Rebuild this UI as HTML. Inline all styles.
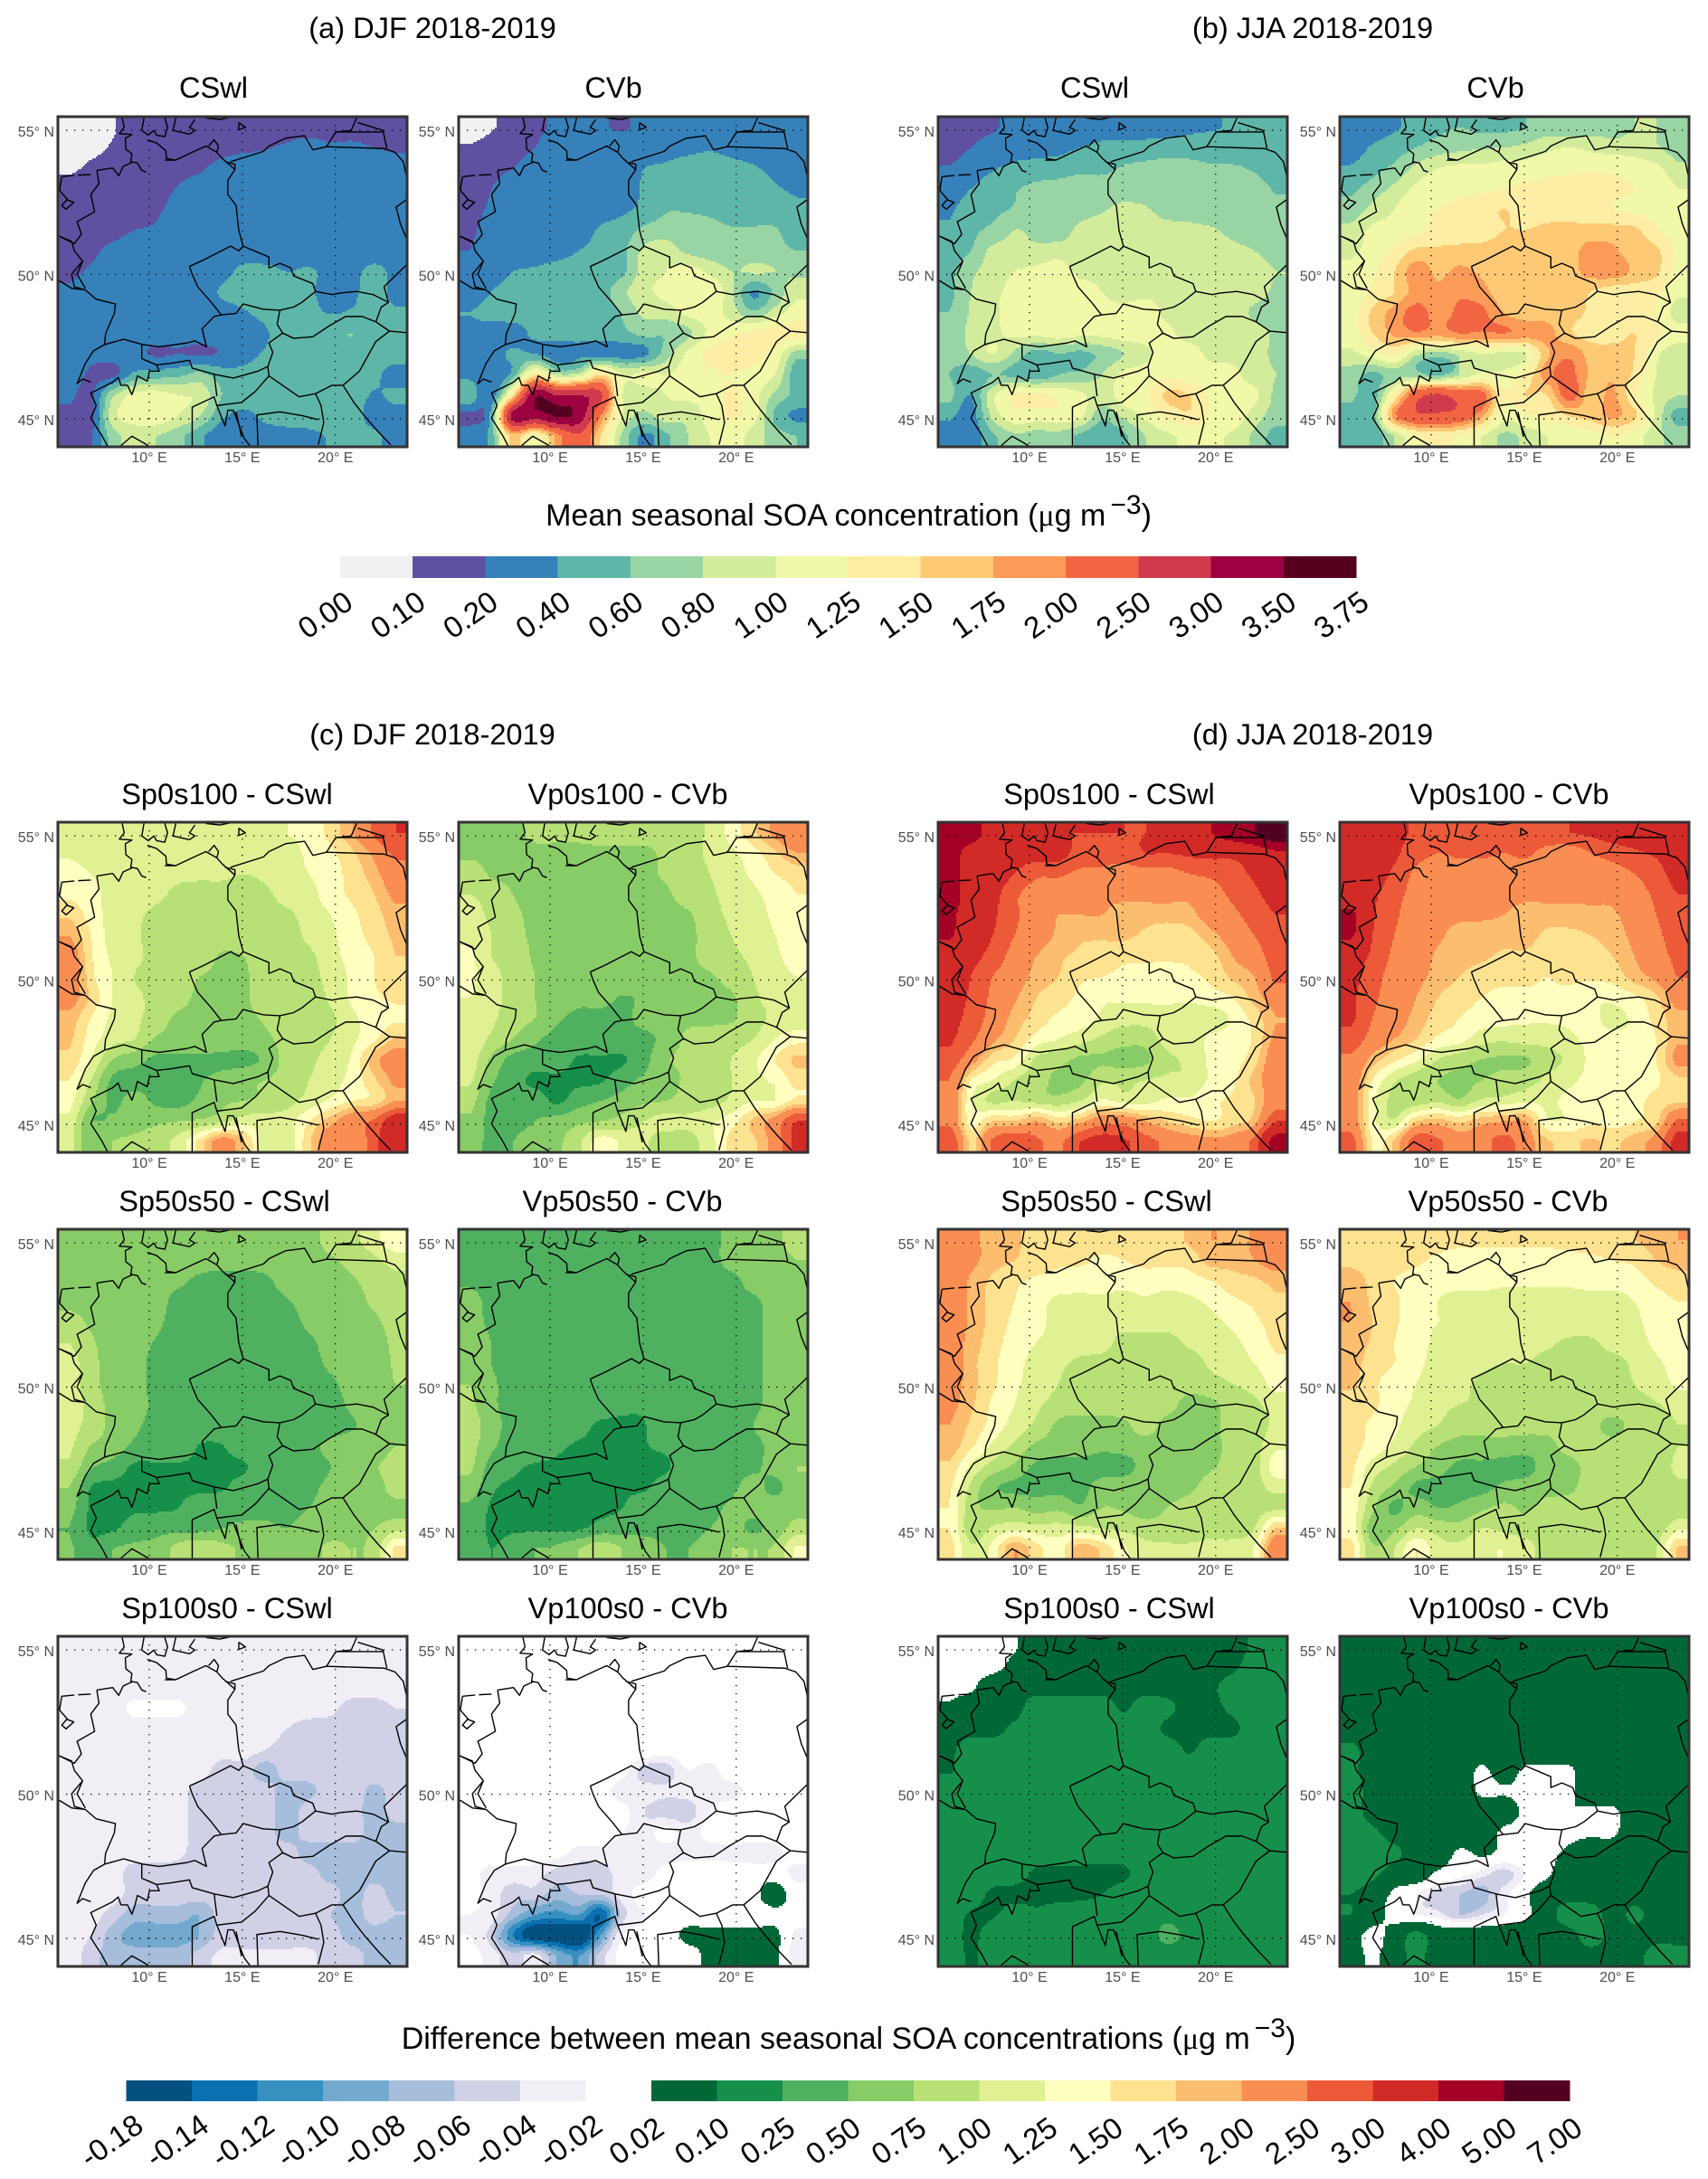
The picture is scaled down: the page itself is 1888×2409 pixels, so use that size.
<!DOCTYPE html>
<html lang="en">
<head>
<meta charset="utf-8">
<title>Mean seasonal SOA concentration maps</title>
<style>
html,body{margin:0;padding:0;background:#fff}
svg{display:block}
text{font-family:"Liberation Sans",Arial,sans-serif;fill:#000}
.h{font-size:32.6px;text-anchor:middle}
.t{font-size:32.6px;text-anchor:middle}
.l{font-size:34px;text-anchor:middle}
.tick{font-size:16px;fill:#4d4d4d}
.bar{font-size:33px;text-anchor:middle}
.sym{font-family:"Liberation Serif",serif}
</style>
</head>
<body>
<svg id="fig" xmlns="http://www.w3.org/2000/svg" width="1888" height="2409" viewBox="0 0 1888 2409">
<rect width="1888" height="2409" fill="#fff"/>
<text class="h" x="478" y="42">(a) DJF 2018-2019</text>
<text class="h" x="1451" y="42">(b) JJA 2018-2019</text>
<text class="h" x="478" y="823">(c) DJF 2018-2019</text>
<text class="h" x="1451" y="823">(d) JJA 2018-2019</text>

<text class="t" x="236" y="108">CSwl</text>
<text class="t" x="678" y="108">CVb</text>
<text class="t" x="1210" y="108">CSwl</text>
<text class="t" x="1653" y="108">CVb</text>

<text class="t" x="251" y="889">Sp0s100 - CSwl</text>
<text class="t" x="694" y="889">Vp0s100 - CVb</text>
<text class="t" x="1226" y="889">Sp0s100 - CSwl</text>
<text class="t" x="1668" y="889">Vp0s100 - CVb</text>

<text class="t" x="248" y="1339">Sp50s50 - CSwl</text>
<text class="t" x="688" y="1339">Vp50s50 - CVb</text>
<text class="t" x="1223" y="1339">Sp50s50 - CSwl</text>
<text class="t" x="1667" y="1339">Vp50s50 - CVb</text>

<text class="t" x="251" y="1789">Sp100s0 - CSwl</text>
<text class="t" x="694" y="1789">Vp100s0 - CVb</text>
<text class="t" x="1226" y="1789">Sp100s0 - CSwl</text>
<text class="t" x="1668" y="1789">Vp100s0 - CVb</text>

<text class="l" x="938" y="581">Mean seasonal SOA concentration (<tspan class="sym">μ</tspan>g m<tspan dx="5" dy="-13" font-size="30">−3</tspan><tspan dy="13">)</tspan></text>
<text class="l" x="938" y="2265">Difference between mean seasonal SOA concentrations (<tspan class="sym">μ</tspan>g m<tspan dx="5" dy="-13" font-size="30">−3</tspan><tspan dy="13">)</tspan></text>
</svg>

<script>
/* ---------- colour scales ---------- */
const concLevels = [0,0.1,0.2,0.4,0.6,0.8,1,1.25,1.5,1.75,2,2.5,3,3.5,3.75];
const concLabels = ["0.00","0.10","0.20","0.40","0.60","0.80","1.00","1.25","1.50","1.75","2.00","2.50","3.00","3.50","3.75"];
const concColors = ["#f1f1f1","#5f50a1","#3681ba","#5eb6a8","#99d5a4","#d3ec9c","#f1f8a8","#fdeea4","#fec975","#fc9a58","#f16543","#d03a4d","#9e0141","#55001f"];
const diffLevels = [-0.18,-0.14,-0.12,-0.10,-0.08,-0.06,-0.04,-0.02,0.02,0.10,0.25,0.50,0.75,1,1.25,1.5,1.75,2,2.5,3,4,5,7];
const diffLabels = ["-0.18","-0.14","-0.12","-0.10","-0.08","-0.06","-0.04","-0.02","0.02","0.10","0.25","0.50","0.75","1.00","1.25","1.50","1.75","2.00","2.50","3.00","4.00","5.00","7.00"];
const diffColors = ["#045080","#0a70b0","#3690c0","#74a9cf","#a6bddb","#d0d1e6","#f1eef6","#ffffff","#006837","#168f4b","#4fb160","#88cc67","#b7e176","#dff192","#ffffbf","#fde290","#fdbd6f","#fa8e52","#ec5a3a","#d12a27","#a40026","#540022"];

/* ---------- axis ticks ---------- */
const lonTicks = [10,15,20];
const latTicks = [55,50,45];

/* ---------- fields: seasonal SOA, rows north to south, columns west to east ---------- */
const djfCswl = [
[.05,.07,.09,.15,.15,.15,.15,.15,.15,.15,.15,.15,.15,.17,.17,.15],
[.05,.07,.11,.15,.15,.15,.15,.15,.17,.19,.22,.25,.22,.22,.2,.18],
[.08,.12,.15,.15,.15,.15,.18,.25,.3,.3,.3,.3,.3,.3,.3,.28],
[.15,.15,.15,.15,.15,.21,.28,.3,.3,.3,.3,.3,.3,.3,.3,.3],
[.15,.15,.15,.15,.18,.25,.3,.3,.3,.3,.3,.3,.3,.3,.3,.3],
[.15,.15,.15,.2,.22,.3,.3,.3,.3,.3,.3,.3,.3,.3,.3,.3],
[.15,.17,.24,.3,.3,.3,.3,.3,.3,.3,.3,.3,.3,.3,.3,.3],
[.17,.22,.3,.3,.3,.3,.3,.33,.45,.45,.4,.42,.35,.35,.45,.35],
[.22,.3,.3,.3,.3,.3,.3,.42,.48,.5,.5,.42,.36,.38,.45,.36],
[.25,.3,.3,.3,.3,.3,.3,.32,.38,.45,.5,.45,.39,.42,.45,.42],
[.3,.3,.3,.3,.3,.3,.3,.3,.3,.38,.5,.5,.55,.6,.5,.48],
[.3,.25,.3,.25,.18,.2,.18,.22,.33,.42,.5,.5,.5,.5,.5,.5],
[.3,.17,.15,.45,.5,.55,.65,.5,.45,.5,.5,.5,.5,.5,.45,.3],
[.25,.15,.75,1.05,1.1,1,.95,.6,.5,.5,.5,.5,.5,.5,.38,.45],
[.15,.12,.9,1.1,1.15,1,.8,.45,.35,.45,.5,.5,.5,.5,.3,.32],
[.15,.17,.7,.85,.8,.65,.45,.25,.25,.3,.32,.35,.42,.5,.45,.3]];
const djfCvb = [
[.05,.09,.14,.17,.22,.25,.22,.18,.25,.28,.3,.3,.3,.3,.3,.3],
[.11,.14,.16,.2,.3,.3,.3,.3,.3,.33,.35,.38,.33,.3,.3,.3],
[.15,.16,.2,.28,.3,.3,.3,.32,.4,.43,.48,.5,.47,.42,.35,.3],
[.15,.2,.3,.3,.3,.3,.3,.32,.42,.5,.5,.5,.5,.5,.42,.38],
[.17,.22,.3,.3,.3,.3,.33,.37,.45,.58,.58,.55,.5,.5,.48,.42],
[.18,.25,.3,.3,.3,.33,.42,.48,.65,.7,.72,.68,.62,.62,.62,.45],
[.2,.3,.3,.33,.35,.4,.45,.55,.85,.9,.75,.7,.68,.68,.68,.6],
[.22,.33,.4,.42,.45,.46,.48,.55,.9,1,1.1,.95,.8,.82,.8,.75],
[.3,.4,.45,.48,.48,.48,.5,.75,.95,1.05,1.15,1.2,.85,.38,.65,.95],
[.4,.45,.5,.48,.48,.48,.48,.62,.85,.9,1.05,1.1,.9,.65,.9,1.1],
[.35,.32,.3,.45,.48,.48,.5,.55,.65,.62,.75,1.05,1.2,1.3,1.4,1.35],
[.35,.3,.45,.4,.3,.35,.32,.3,.35,.7,1.05,1.3,1.4,1.35,1.15,.7],
[.35,.25,.5,1.4,.85,.9,1.5,1,1.05,1,1.1,1.2,1.25,1.15,1,.45],
[.55,.25,1.5,3.4,3,3,2.6,1,.9,1,1.05,1.1,1.3,1.1,.75,.55],
[.15,.5,3.2,3.2,3.55,3.3,2,1,.75,.9,.85,1.1,1.3,1.1,.55,.35],
[.3,.5,1.6,1.1,1.8,2.4,1.5,.75,.35,.55,.8,1,1.1,.9,.7,.6]];
const jjaCswl = [
[.15,.15,.18,.25,.3,.3,.3,.3,.3,.3,.32,.35,.38,.42,.48,.5],
[.15,.2,.28,.3,.33,.35,.4,.45,.47,.48,.5,.52,.52,.5,.5,.48],
[.21,.3,.38,.45,.48,.5,.55,.55,.62,.65,.68,.65,.62,.62,.58,.5],
[.32,.4,.5,.58,.65,.68,.7,.7,.7,.7,.7,.7,.7,.7,.68,.58],
[.38,.48,.55,.62,.7,.72,.72,.78,.85,.82,.72,.72,.7,.7,.7,.65],
[.42,.55,.65,.8,.75,.7,.85,.9,.92,.9,.88,.85,.82,.75,.7,.68],
[.5,.6,.85,.85,.85,.9,.9,.9,.95,.92,.92,.9,.9,.85,.8,.72],
[.55,.75,.9,1,1.05,1.1,.95,.95,.95,.9,.9,.95,.95,.92,.88,.8],
[.55,.8,.95,1.05,1.1,1.1,1.1,1,.95,.95,.95,.9,.95,.9,.9,.75],
[.6,.82,.95,1.1,1.1,1.1,1.1,1.05,1.05,1.1,.95,.92,.85,.92,.75,.65],
[.65,.85,.95,1.05,1.05,1.1,1.05,1.05,1.1,1.1,1.05,.92,.92,.95,.9,.75],
[.65,.8,1,.75,.5,.6,.55,.65,.8,.95,1.1,1.1,.95,.95,.9,.75],
[.6,.45,.6,.55,.42,.6,.65,.8,1.05,1.1,1.2,1.1,1.1,1.05,.9,.8],
[.65,.4,.95,1.25,1.3,1.2,1.05,.9,1.1,1.2,1.55,1.5,1.2,1.1,1.05,.75],
[.45,.3,.85,1.15,1.1,1.15,1.05,.65,.85,1.05,1.3,1.45,1.2,1.15,.9,.7],
[.2,.25,.55,.75,.7,.7,.55,.42,.55,.8,.95,1.05,1.05,.95,.75,.5]];
const jjaCvb = [
[.3,.3,.38,.45,.55,.6,.55,.55,.6,.7,.65,.72,.72,.8,.8,.75],
[.32,.42,.5,.6,.7,.75,.78,.8,.85,.95,1,.95,.9,.88,.82,.72],
[.42,.52,.65,.85,1,1.05,1.05,1.1,1.1,1.15,1.2,1.2,1.2,1.15,1.05,.85],
[.55,.7,.85,1.05,1.15,1.2,1.2,1.25,1.3,1.35,1.35,1.35,1.3,1.25,1.2,1],
[.7,.85,1,1.2,1.25,1.3,1.4,1.5,1.4,1.4,1.35,1.3,1.25,1.2,1.1,1],
[.85,1.05,1.1,1.2,1.3,1.3,1.35,1.5,1.5,1.55,1.6,1.6,1.6,1.55,1.3,1.1],
[.95,1.1,1.3,1.55,1.55,1.6,1.6,1.65,1.6,1.6,1.65,1.85,1.8,1.6,1.55,1.2],
[1.05,1.2,1.5,1.9,1.7,1.8,1.7,1.5,1.65,1.6,1.65,1.85,1.9,1.7,1.55,1.15],
[1.05,1.3,1.5,1.85,1.8,1.95,1.85,1.6,1.65,1.7,1.7,1.5,1.35,1.35,1.3,1.05],
[1.1,1.55,1.85,2.1,1.9,2.05,2.05,1.75,1.6,1.65,1.6,1.45,1.3,1.4,1.25,.9],
[1.1,1.5,1.8,1.95,1.85,2.0,1.95,2,1.9,1.85,1.55,1.4,1.4,1.5,1.3,1.1],
[.95,1.1,1.3,.85,.7,.85,1,.95,1,1.7,1.95,1.65,1.6,1.5,1.05,.85],
[.7,.55,.7,.7,.55,.8,1.05,1.05,1.3,1.9,2.1,1.7,1.7,1.45,1,.8],
[.65,.5,1.3,2.3,2.55,2.3,2.15,1.3,1.5,1.5,2.15,1.6,1.8,1.3,.95,.8],
[.5,.5,1.9,2.4,2.4,2.3,1.8,1.1,1.2,1.3,1.5,1.6,1.8,1.55,.95,.5],
[.5,.45,.8,1.2,1.3,1.2,1,.75,.85,1,1.05,1.1,1.25,1.1,.85,.75]];
const djfSp0 = [
[1.1,1.1,1.1,1.1,1.1,1.1,1.1,1.15,1.15,1.2,1.25,1.35,1.6,2,2.6,3],
[1.2,1.1,1.1,1.1,1.1,1.1,1.1,1.1,1.1,1.1,1.15,1.3,1.45,1.7,2.1,2.6],
[1.4,1.25,1.15,1.1,1.1,1.05,1.05,1.05,1,1.05,1.15,1.25,1.4,1.6,1.9,2.3],
[1.45,1.35,1.15,1.1,1.05,.95,.9,.9,.9,.95,1.1,1.15,1.4,1.55,1.75,2.1],
[1.7,1.4,1.15,1.05,.95,.9,.9,.9,.9,.9,.95,1.1,1.25,1.45,1.65,1.9],
[2,1.5,1.15,1.05,.9,.9,.9,.9,.9,.9,.9,1.05,1.2,1.4,1.6,1.8],
[2.3,1.55,1.2,1.05,.95,.9,.9,.72,.75,.9,.9,.95,1.15,1.35,1.5,1.75],
[2.4,1.6,1.25,1,.95,.9,.75,.7,.72,.85,.9,.9,1.1,1.3,1.5,1.7],
[2.2,1.7,1.25,1.05,.95,.85,.7,.7,.72,.85,.9,.85,1.05,1.3,1.45,1.55],
[1.9,1.5,1.2,1.05,.9,.7,.7,.7,.7,.78,.9,.85,.95,1.2,1.35,1.45],
[1.8,1.4,1.1,1,.72,.65,.7,.7,.65,.7,.85,.9,1,1.2,1.45,1.8],
[1.7,1.25,.75,.6,.45,.45,.45,.42,.42,.55,.85,.95,1.1,1.3,1.9,2.2],
[1.5,1,.45,.42,.42,.45,.48,.6,.7,.75,.85,1,1.15,1.35,1.7,2.1],
[1.35,.8,.45,.6,.45,.42,.55,.7,.75,.8,.9,1.1,1.3,1.5,1.6,2],
[1.2,.5,.55,.65,.7,.75,.8,.95,1.15,1.1,1.15,1.5,1.9,2.3,2.6,3.5],
[1.1,.5,.75,.8,.9,1.1,1.6,2.2,1.8,1.1,1.05,1.7,2.3,2.1,2.8,3.8]];
const djfVp0 = [
[.7,.7,.7,.8,.8,.8,.85,.85,.85,.85,.9,1.05,1.35,1.7,2.1,2.4],
[.7,.7,.7,.7,.7,.7,.7,.7,.7,.8,.9,1.05,1.2,1.4,1.7,2],
[.9,.72,.7,.7,.7,.7,.7,.7,.7,.78,.85,1,1.15,1.3,1.5,1.6],
[1,.9,.75,.7,.7,.7,.7,.7,.7,.72,.85,.95,1.1,1.2,1.35,1.5],
[1.1,.95,.8,.7,.7,.7,.7,.7,.7,.7,.72,.9,1.05,1.15,1.3,1.45],
[1.2,1,.85,.7,.7,.7,.7,.7,.7,.7,.7,.85,1,1.1,1.25,1.4],
[1.3,1,.9,.72,.7,.7,.7,.7,.7,.7,.7,.85,.95,1.05,1.2,1.35],
[1.3,1.1,.9,.75,.7,.7,.7,.7,.7,.7,.7,.72,.85,1,1.15,1.25],
[1.25,1.1,.9,.75,.7,.6,.6,.48,.55,.65,.7,.7,.72,.95,1.1,1.2],
[1.2,1.05,.85,.75,.55,.42,.42,.42,.6,.65,.7,.7,.72,.9,1.05,1.1],
[1.2,.95,.75,.55,.42,.42,.42,.42,.42,.6,.8,.85,.9,1,1.25,1.4],
[1.15,.7,.42,.38,.38,.22,.22,.22,.42,.72,.8,.9,1,1.2,1.5,1.8],
[1.05,.55,.35,.2,.2,.2,.22,.4,.55,.65,.8,.9,1,1.2,1.3,1.6],
[.85,.42,.25,.38,.2,.4,.5,.6,.7,.75,.85,.9,1.05,1.25,1.25,1.6],
[.7,.42,.42,.5,.6,.7,.75,.85,1,1.1,1.05,1.2,1.4,1.8,2.2,3],
[.6,.45,.5,.6,.7,.95,1.4,1.2,1.05,.85,.9,1.15,1.6,1.7,2.2,3.2]];
const jjaSp0 = [
[4.5,4.5,3.5,3.3,3,3,3,3,3,3,3.2,3.5,4,4.5,5,6],
[4.5,3.6,3.5,3.3,3.2,3.2,2.8,2.7,2.7,3,3,3.1,3.2,3.2,3.4,3.8],
[4.5,3.5,3.4,3,2.6,2.6,2.4,2.4,2.3,2.3,2.3,2.5,2.6,2.8,3.1,3.4],
[4.5,3.5,3.2,2.6,2.3,2.1,2.1,2.1,2.1,2.1,2.1,2.1,2.3,2.6,2.9,3.2],
[4.2,3.5,3.1,2.6,2.2,2,2,2,1.85,1.85,1.85,1.9,2.2,2.4,2.7,3],
[4.1,3.4,3,2.5,2.2,1.95,1.8,1.8,1.8,1.7,1.6,1.65,1.9,2.2,2.5,2.8],
[3.5,3.2,2.8,2.3,2,1.8,1.7,1.6,1.55,1.55,1.55,1.55,1.65,2,2.3,2.7],
[3.5,3,2.5,2.2,1.9,1.75,1.55,1.5,1.45,1.4,1.35,1.45,1.55,1.8,2,2.6],
[3.4,2.9,2.4,2.05,1.75,1.6,1.45,1.3,1.3,1.3,1.3,1.3,1.4,1.5,1.85,2.2],
[3.2,2.8,2.3,1.9,1.65,1.45,1.4,1.2,1.1,1.1,1.15,1.1,1.1,1.3,1.6,2],
[3.1,2.6,2.1,1.75,1.4,1.25,1.1,.95,.85,.85,1.1,1.1,1.3,1.35,1.55,2.1],
[2.8,2.2,1.6,1.45,.95,.85,.7,.72,.65,.7,.95,1.05,1.3,1.4,1.65,2.3],
[2.5,1.5,1.25,1,.85,.7,.7,.95,.95,1,1.05,1.05,1.3,1.45,1.85,2.3],
[2.4,1.3,.95,1,.9,.85,1,1.3,1.15,1.15,1.3,1.3,1.45,1.55,1.75,2.3],
[2.4,1.4,1.75,1.75,2,1.7,1.9,2.3,2.3,2,1.75,1.6,1.5,1.65,1.9,3],
[3,1.7,2.6,3,2.6,2.4,3,3.3,3.1,2.7,2.4,2.2,2.1,2.2,2.7,4.5]];
const jjaVp0 = [
[3.5,3.4,3.2,2.9,2.8,2.8,2.8,2.9,2.9,2.9,3,3.1,3.3,3.4,3.7,3.9],
[3.5,3.4,3.1,2.7,2.5,2.6,2.6,2.5,2.6,2.3,2.2,2.5,2.7,2.9,3.1,3.4],
[3.5,3.3,2.9,2.4,2.2,2.2,2.2,2.2,2.2,2.2,2.2,2.2,2.3,2.5,2.8,3.2],
[3.3,3.1,2.7,2.3,2.1,2.1,2.1,2.15,2.1,2.1,2.1,2.1,2.1,2.3,2.6,3],
[4.2,3.1,2.6,2.2,2.1,2.05,2.05,2,1.85,1.85,1.85,1.9,1.95,2.2,2.5,2.8],
[4.1,3,2.5,2.2,2.05,1.9,1.85,1.85,1.85,1.7,1.7,1.75,1.85,2.1,2.4,2.7],
[3.3,2.9,2.4,2.2,1.95,1.85,1.8,1.7,1.7,1.55,1.55,1.65,1.75,2,2.3,2.6],
[3.2,2.7,2.3,2.1,1.9,1.75,1.6,1.55,1.55,1.5,1.55,1.55,1.6,1.85,2.1,2.5],
[3.1,2.6,2.3,2,1.75,1.6,1.5,1.45,1.45,1.45,1.4,1.3,1.3,1.45,1.7,2.2],
[3.1,2.5,2.2,1.9,1.65,1.5,1.4,1.35,1.3,1.3,1.3,1.3,1.2,1.3,1.6,1.9],
[2.8,2.3,2,1.75,1.45,1.35,1.1,1.05,1.1,1.1,1.2,1.3,1.3,1.3,1.5,1.95],
[2.4,1.9,1.55,1.3,1,.85,.75,.72,.72,.9,1.05,1.3,1.3,1.3,1.5,2.1],
[2.3,1.5,1.05,.85,.75,.7,.75,.85,.9,1.05,1.2,1.3,1.3,1.3,1.45,1.7],
[2.2,1.35,.9,.85,.95,.8,1.05,1.1,1.2,1.2,1.3,1.3,1.3,1.4,1.6,1.7],
[2.3,1.35,1.05,1.75,1.85,1.7,1.9,2,2,1.3,1.3,1.45,1.4,1.5,1.7,2.6],
[2.7,1.5,1.8,2.8,2.6,2.2,2.3,2.7,2.2,1.8,1.7,1.8,1.7,1.9,2.2,3.3]];
const djfSp50 = [
[.6,.6,.6,.6,.6,.6,.6,.6,.6,.6,.6,.6,.9,.95,1.15,1.5],
[.6,.6,.6,.6,.6,.6,.6,.6,.6,.6,.6,.6,.7,.85,.95,1.1],
[.62,.6,.6,.6,.6,.55,.45,.4,.4,.45,.6,.6,.6,.72,.85,.95],
[.65,.6,.6,.6,.6,.42,.4,.4,.4,.4,.48,.6,.6,.65,.8,.9],
[.9,.7,.6,.6,.55,.4,.4,.4,.4,.4,.4,.55,.6,.6,.7,.85],
[1,.8,.6,.6,.48,.4,.4,.4,.4,.4,.4,.45,.6,.6,.65,.8],
[1.1,.85,.62,.6,.42,.4,.4,.4,.4,.4,.4,.4,.55,.6,.62,.78],
[1.1,.85,.65,.6,.42,.4,.4,.4,.4,.4,.4,.4,.45,.6,.6,.75],
[1.15,.9,.68,.6,.45,.4,.4,.4,.4,.4,.4,.4,.4,.55,.6,.65],
[1.1,.9,.68,.55,.42,.4,.4,.4,.4,.4,.4,.4,.4,.48,.6,.62],
[1.05,.75,.65,.45,.4,.4,.24,.24,.38,.42,.42,.45,.55,.6,.6,.75],
[.95,.55,.4,.22,.22,.22,.22,.22,.22,.42,.42,.42,.5,.6,.72,.85],
[.75,.25,.2,.2,.2,.2,.2,.22,.35,.42,.42,.45,.55,.6,.65,.85],
[.6,.22,.2,.22,.22,.25,.4,.42,.42,.42,.42,.5,.6,.6,.65,.7],
[.5,.22,.22,.35,.4,.42,.42,.5,.55,.55,.5,.6,.65,.7,.75,.9],
[.55,.3,.5,.55,.6,.85,1,.85,.7,.6,.55,.65,.8,.75,.85,1.6]];
const djfVp50 = [
[.4,.4,.4,.4,.4,.4,.4,.4,.4,.4,.4,.4,.6,.6,.7,.85],
[.4,.4,.4,.4,.4,.4,.4,.4,.4,.4,.4,.4,.6,.6,.65,.75],
[.45,.4,.4,.4,.4,.4,.4,.4,.4,.4,.4,.4,.42,.6,.6,.65],
[.6,.42,.4,.4,.4,.4,.4,.4,.4,.4,.4,.4,.4,.45,.6,.62],
[.6,.45,.4,.4,.4,.4,.4,.4,.4,.4,.4,.4,.4,.42,.6,.6],
[.65,.5,.4,.4,.4,.4,.4,.4,.4,.4,.4,.4,.4,.42,.6,.6],
[.7,.5,.4,.4,.4,.4,.4,.4,.4,.4,.4,.4,.4,.42,.6,.6],
[.75,.55,.4,.4,.4,.4,.3,.4,.4,.4,.4,.4,.4,.42,.6,.65],
[.8,.55,.42,.4,.4,.4,.36,.3,.3,.4,.4,.4,.4,.45,.6,.7],
[.9,.6,.42,.4,.4,.32,.22,.22,.24,.4,.4,.4,.4,.5,.6,.6],
[.85,.55,.4,.4,.3,.22,.22,.22,.24,.3,.4,.4,.4,.45,.55,.6],
[.8,.4,.3,.22,.2,.12,.12,.12,.2,.22,.4,.4,.4,.45,.6,.75],
[.65,.3,.2,.12,.1,.1,.12,.2,.22,.35,.4,.4,.45,.6,.42,.7],
[.45,.22,.1,.12,.15,.2,.2,.25,.4,.4,.4,.42,.55,.6,.65,.7],
[.42,.2,.2,.22,.22,.22,.35,.38,.42,.42,.42,.5,.6,.45,.62,.85],
[.45,.25,.4,.5,.55,.75,.95,.75,.65,.5,.5,.6,.75,.75,.8,1.3]];
const jjaSp50 = [
[2.1,2.1,1.85,1.8,1.6,1.6,1.6,1.65,1.6,1.6,1.6,1.8,2,1.95,2.05,2.4],
[2.2,2.1,1.85,1.75,1.65,1.55,1.55,1.45,1.5,1.55,1.55,1.6,1.85,1.85,2,2.2],
[2.3,1.95,1.7,1.55,1.45,1.4,1.35,1.35,1.35,1.4,1.35,1.4,1.5,1.65,1.7,1.85],
[2.3,1.95,1.65,1.5,1.35,1.2,1.2,1.2,1.15,1.2,1.15,1.2,1.3,1.45,1.55,1.7],
[2.2,1.95,1.65,1.45,1.35,1.15,1.15,1.1,1.1,1.1,1.1,1.15,1.2,1.3,1.45,1.6],
[2.2,1.9,1.6,1.4,1.25,1.15,1.1,1.1,.9,.9,.9,1.05,1.15,1.2,1.35,1.55],
[2.3,1.85,1.55,1.35,1.15,1.05,.95,.9,.85,.85,.85,.85,1.05,1.15,1.25,1.45],
[2.2,1.85,1.55,1.3,1.15,1,.85,.85,.85,.85,.85,.85,.9,1,1.1,1.35],
[2.1,1.8,1.45,1.25,1.05,.9,.85,.85,.85,.85,.85,.65,.7,.85,.95,1.1],
[2,1.7,1.4,1.15,.95,.7,.65,.65,.7,.85,.65,.6,.65,.9,.9,1.05],
[1.9,1.55,1.2,.95,.7,.65,.6,.55,.6,.65,.65,.6,.65,.85,.9,1.2],
[1.7,1.2,.9,.7,.45,.4,.42,.42,.4,.6,.62,.65,.72,.85,.9,1.4],
[1.55,.95,.55,.45,.42,.42,.42,.6,.65,.65,.65,.7,.85,.88,.9,1.1],
[1.5,.85,.72,.75,.65,.7,.55,.75,.72,.65,.75,.85,.9,.9,.9,.95],
[1.5,.85,1.05,1.15,1.1,1.1,1.1,1,.95,.85,.85,.85,.9,.9,1,1.8],
[1.65,1.05,1.35,2,1.6,1.4,1.9,1.7,1.3,1.1,1.05,1.05,1.1,1.1,1.3,2.4]];
const jjaVp50 = [
[1.65,1.6,1.65,1.65,1.6,1.55,1.55,1.55,1.55,1.55,1.6,1.65,1.65,1.75,1.85,2],
[1.65,1.6,1.6,1.55,1.45,1.4,1.4,1.4,1.4,1.4,1.4,1.45,1.5,1.55,1.75,1.85],
[1.95,1.65,1.5,1.4,1.35,1.35,1.35,1.3,1.3,1.3,1.3,1.35,1.35,1.4,1.55,1.65],
[2,1.7,1.55,1.35,1.25,1.15,1.15,1.15,1.15,1.15,1.15,1.15,1.15,1.25,1.4,1.5],
[2,1.75,1.55,1.3,1.25,1.2,1.15,1.15,1.15,1.15,1.15,1.15,1.15,1.2,1.35,1.45],
[1.95,1.7,1.5,1.35,1.2,1.15,1.1,1.1,1.1,1.05,.95,.95,1.1,1.15,1.3,1.4],
[1.9,1.6,1.5,1.35,1.1,1.05,1.05,1,1,.9,.85,.85,.9,1.05,1.2,1.35],
[1.8,1.55,1.4,1.25,1.05,1.05,.95,.85,.85,.85,.85,.85,.95,1,1.1,1.3],
[1.65,1.55,1.35,1.2,1.05,1,.95,.85,.85,.85,.85,.85,.95,.95,.98,1.1],
[1.6,1.45,1.3,1.1,1,.85,.85,.85,.85,.85,.85,.85,.65,.85,.85,1],
[1.6,1.4,1.2,.95,.75,.65,.65,.65,.6,.65,.85,.85,.85,.85,.85,1],
[1.55,1.15,.95,.75,.6,.45,.45,.42,.42,.6,.65,.85,.85,.85,.85,1.05],
[1.5,.95,.7,.45,.42,.42,.42,.55,.6,.65,.7,.85,.85,.85,.85,.95],
[1.4,.8,.45,.65,.5,.55,.7,.8,.72,.85,.85,.85,.85,.85,.85,.85],
[1.4,.6,.7,1,.9,.85,1,.95,.85,.85,.85,.85,.85,.85,.85,1.2],
[1.6,.8,1,1.5,1.1,1.05,1.2,1.25,1.15,.85,.85,.9,.9,.95,1,1.8]];
const djfSp100 = [
[-.03,-.03,-.03,-.03,-.03,-.03,-.03,-.03,-.03,-.03,-.03,-.03,-.03,-.03,-.03,-.03],
[-.03,-.03,-.03,-.03,-.03,-.03,-.03,-.03,-.03,-.03,-.03,-.03,-.03,-.03,-.03,-.03],
[-.03,-.03,-.03,-.03,-.03,-.03,-.03,-.03,-.03,-.03,-.03,-.03,-.03,-.03,-.03,-.03],
[-.03,-.03,-.03,-.015,-.015,-.015,-.03,-.03,-.03,-.03,-.03,-.03,-.035,-.05,-.05,-.04],
[-.03,-.03,-.03,-.03,-.03,-.03,-.03,-.03,-.03,-.03,-.04,-.05,-.05,-.05,-.05,-.05],
[-.03,-.03,-.03,-.03,-.03,-.03,-.03,-.03,-.03,-.04,-.05,-.05,-.05,-.05,-.05,-.05],
[-.03,-.03,-.03,-.03,-.03,-.03,-.03,-.05,-.05,-.07,-.05,-.05,-.05,-.05,-.05,-.05],
[-.03,-.03,-.03,-.03,-.03,-.03,-.05,-.05,-.05,-.05,-.07,-.065,-.05,-.05,-.065,-.05],
[-.03,-.03,-.03,-.03,-.03,-.03,-.05,-.05,-.05,-.05,-.07,-.05,-.05,-.05,-.07,-.05],
[-.03,-.03,-.03,-.03,-.03,-.03,-.05,-.05,-.05,-.05,-.07,-.05,-.05,-.05,-.07,-.07],
[-.03,-.03,-.03,-.03,-.03,-.035,-.05,-.05,-.05,-.05,-.05,-.07,-.07,-.07,-.07,-.07],
[-.03,-.03,-.03,-.05,-.05,-.05,-.05,-.05,-.05,-.05,-.05,-.05,-.07,-.07,-.07,-.07],
[-.03,-.03,-.03,-.05,-.05,-.05,-.05,-.05,-.05,-.05,-.05,-.05,-.05,-.07,-.05,-.07],
[-.03,-.03,-.05,-.07,-.07,-.07,-.08,-.05,-.05,-.05,-.05,-.05,-.06,-.07,-.05,-.06],
[-.03,-.04,-.07,-.09,-.09,-.09,-.08,-.05,-.05,-.05,-.05,-.05,-.05,-.07,-.07,-.08],
[-.03,-.05,-.07,-.07,-.07,-.07,-.05,-.035,-.035,-.035,-.035,-.035,-.05,-.05,-.07,-.08]];
const djfVp100 = [
[0,0,0,0,0,0,0,0,0,0,0,0,0,0,0,0],
[0,0,0,0,0,0,0,0,0,0,0,0,0,0,0,0],
[0,0,0,0,0,0,0,0,0,0,0,0,0,0,0,0],
[0,0,0,0,0,0,0,0,0,0,0,0,0,0,0,0],
[0,0,0,0,0,0,0,0,0,0,0,0,0,0,0,0],
[0,0,0,0,0,0,0,0,0,-.01,0,0,0,0,0,0],
[0,0,0,0,0,0,0,-.01,-.05,-.05,-.02,-.03,0,0,0,0],
[0,0,0,0,0,0,-.01,-.03,-.03,-.035,-.03,-.03,-.03,-.01,0,0],
[0,0,0,0,0,0,0,-.01,-.04,-.05,-.05,-.02,0,0,0,0],
[0,0,0,0,0,0,0,-.02,-.03,-.01,-.03,-.01,0,0,0,0],
[0,0,0,-.01,-.01,-.03,-.03,-.03,-.03,-.03,-.03,-.03,-.03,-.035,-.03,0],
[-.01,-.03,-.03,-.03,-.05,-.05,-.05,-.03,-.03,-.01,0,0,0,0,0,-.03],
[-.01,-.03,-.05,-.05,-.07,-.06,-.06,-.03,-.01,0,0,0,0,.01,.04,0],
[-.02,-.03,-.07,-.1,-.11,-.1,-.14,-.05,-.02,0,0,0,0,0,.01,0],
[-.02,-.05,-.12,-.16,-.16,-.17,-.1,-.02,-.01,0,.03,.03,.03,.03,.03,-.03],
[-.01,-.03,-.05,-.03,-.08,-.1,-.05,-.01,0,0,0,.03,.03,.03,.03,-.04]];
const jjaSp100 = [
[0,0,0,.015,.05,.05,.05,.05,.05,.05,.05,.05,.05,.05,.12,.12],
[0,0,0,.04,.05,.05,.05,.05,.05,.05,.05,.05,.05,.08,.15,.15],
[0,.01,.07,.07,.07,.07,.07,.07,.07,.07,.07,.07,.08,.15,.15,.15],
[.03,.07,.07,.07,.15,.15,.15,.15,.09,.15,.12,.07,.07,.12,.15,.15],
[.05,.07,.07,.12,.15,.15,.15,.15,.15,.15,.08,.07,.07,.08,.15,.15],
[.08,.15,.15,.15,.15,.15,.15,.15,.15,.15,.15,.09,.15,.15,.15,.15],
[.09,.15,.15,.15,.15,.15,.15,.15,.15,.15,.15,.15,.15,.15,.15,.15],
[.15,.15,.15,.15,.15,.15,.15,.15,.15,.15,.15,.15,.15,.15,.15,.15],
[.15,.15,.15,.15,.15,.15,.15,.15,.15,.15,.15,.15,.15,.15,.15,.15],
[.15,.15,.15,.15,.15,.15,.15,.15,.15,.15,.15,.15,.15,.15,.15,.15],
[.15,.15,.15,.15,.15,.15,.15,.15,.15,.15,.15,.15,.15,.15,.15,.15],
[.15,.15,.15,.15,.08,.07,.07,.07,.08,.15,.15,.15,.15,.15,.15,.15],
[.15,.15,.08,.07,.07,.07,.08,.1,.15,.15,.15,.15,.15,.15,.15,.15],
[.15,.09,.09,.15,.12,.15,.15,.15,.15,.15,.2,.15,.15,.15,.15,.15],
[.15,.08,.15,.15,.15,.15,.15,.15,.15,.15,.3,.2,.15,.15,.15,.15],
[.15,.09,.15,.15,.15,.15,.15,.15,.15,.15,.15,.15,.15,.15,.15,.2]];
const jjaVp100 = [
[.06,.06,.06,.06,.06,.06,.06,.06,.06,.06,.06,.06,.06,.06,.06,.08],
[.06,.06,.06,.06,.06,.06,.06,.06,.06,.06,.06,.06,.06,.06,.06,.06],
[.06,.06,.06,.06,.06,.06,.06,.06,.06,.06,.06,.06,.06,.06,.06,.06],
[.06,.06,.06,.06,.06,.06,.06,.06,.06,.06,.06,.06,.06,.06,.06,.06],
[.06,.06,.06,.06,.06,.06,.06,.06,.06,.06,.06,.06,.06,.06,.06,.06],
[.12,.06,.06,.06,.06,.06,.06,.06,.06,.06,.06,.06,.06,.06,.06,.06],
[.12,.06,.06,.06,.06,.06,.01,.05,.01,.01,.01,.06,.06,.06,.06,.06],
[.15,.06,.06,.06,.06,.06,.01,.015,.01,.01,.01,.06,.06,.06,.06,.06],
[.15,.06,.06,.06,.06,.06,.05,.05,.01,.01,.02,.01,.01,.05,.06,.06],
[.15,.12,.06,.06,.06,.06,.06,.01,.01,.01,.01,.01,.01,.06,.06,.06],
[.15,.15,.12,.06,.06,.01,.03,.01,.01,.01,.03,.06,.06,.06,.06,.06],
[.15,.12,.06,.06,.01,-.01,-.03,-.05,-.02,.01,.06,.06,.06,.06,.06,.06],
[.1,.06,.01,-.02,-.05,-.06,-.07,-.03,.01,.06,.06,.06,.06,.06,.06,.06],
[.1,.05,0,-.02,-.03,-.06,-.04,-.02,.01,.06,.15,.15,.06,.12,.06,.06],
[.05,0,.05,.12,.06,.06,.06,.06,.06,.06,.06,.15,.06,.06,.06,.06],
[.05,.01,.06,.12,.06,.06,.06,.06,.06,.06,.06,.06,.06,.06,.15,.15]];

/* ---------- basemap outline (political borders and coasts), in a 637x1056 local frame ---------- */
const bordersOutline = "M222 378L226 410L217 430L240 433L228 445L229 480L240 495L238 520L250 524L258 548L266 553M112 568L135 564M142 563L165 561M176 548L205 540L216 565L224 535L240 522M176 548L180 590L165 625L172 680L140 712L148 752L135 782L107 758M112 568L108 612L122 640L112 660L120 672L134 650L122 642M107 758L130 775L135 805L150 838L130 880L135 920L155 930L175 960L210 975L208 1005L192 1070L190 1105L225 1088L260 1105L290 1112L340 1100L355 1093L376 1112L368 1055L390 1015L403 1010L430 1005L443 975L480 992L510 995L505 1040L515 1068L490 1100L497 1130L488 1175L470 1190L425 1212L390 1200L350 1180L345 1155L310 1165L285 1170L258 1150L258 1105M150 838L140 880L155 925M107 900L130 925L155 930M345 855L350 880L360 920L385 970L403 1010M345 855L370 835L420 790L435 805L443 790L490 825L490 860L510 845L530 860L535 885L570 910L575 935L550 970L535 985L510 995M575 935L605 945L620 940L650 935L680 945L708 970L695 985L685 1032L660 1015L630 1015L600 1045L570 1080L535 1085L515 1068M708 970L700 920L742 848M443 790L435 740L430 660L415 625L415 580L428 545L405 510M410 520L428 528L428 545M420 520L480 487L490 470L520 445L555 437L570 482L595 472L700 478L720 490L735 520L742 575M595 472L612 425L640 420L650 380M652 395L698 420L705 478M612 425L698 425M742 640L722 665L730 720L742 770M685 1032L710 1062L742 1067M710 1062L685 1095L655 1190L625 1235L605 1235L575 1262L545 1272L490 1205M625 1235L645 1290L665 1335L690 1385L712 1425M575 1262L585 1300L590 1355L580 1425M488 1175L490 1205L465 1255L440 1290L395 1300L390 1272L350 1305L350 1428M390 1200L395 1270M285 1170L290 1190L272 1190L268 1222L250 1205L245 1240L240 1265L232 1235L220 1235L215 1210L205 1225L165 1260L175 1300L165 1340L185 1395L195 1428M190 1105L170 1125L155 1165L140 1230L150 1215L165 1225M220 1428L240 1398L270 1428M395 1300L410 1365L415 1315L425 1315L445 1405L455 1428M430 1320L440 1400M470 1428L468 1330L510 1320L550 1332L580 1345M300 515L320 515L350 490L375 470L395 490L405 510M268 450L285 460L302 485L303 510L320 515M435 395L447 410L435 418L435 395M380 470L390 450L398 470L395 490M262 380L258 420L270 435L280 420L285 435L300 440L305 410L300 380M320 380L315 420L345 432L355 420L345 410L355 385M375 380L400 385L420 378";

/* ---------- figure geometry ---------- */
const svgNS = "http://www.w3.org/2000/svg";
const fig = document.getElementById("fig");
const PW = 386, PH = 365;
const lonMin = 5.09, lonMax = 23.85, latMax = 55.47, latMin = 44.03;
function lonX(lon){ return (lon - lonMin) / (lonMax - lonMin) * PW; }
function latY(lat){ return (latMax - lat) / (latMax - latMin) * PH; }

function mk(tag, attrs, parent){
  const el = document.createElementNS(svgNS, tag);
  for (const k in attrs) el.setAttribute(k, attrs[k]);
  (parent || fig).appendChild(el);
  return el;
}

function catmull(a, b, c, d, t){
  return 0.5 * (2*b + (c-a)*t + (2*a - 5*b + 4*c - d)*t*t + (3*b - a - 3*c + d)*t*t*t);
}
function sampleField(f, u, v){
  const nr = f.length, nc = f[0].length;
  const gx = u * nc - 0.5, gy = v * nr - 0.5;
  const i = Math.max(0, Math.min(nc - 2, Math.floor(gx)));
  const j = Math.max(0, Math.min(nr - 2, Math.floor(gy)));
  const tx = Math.max(0, Math.min(1, gx - i));
  const ty = Math.max(0, Math.min(1, gy - j));
  const rowVal = function(r){
    const row = f[Math.max(0, Math.min(nr - 1, r))];
    const at = function(c){ return row[Math.max(0, Math.min(nc - 1, c))]; };
    return catmull(at(i-1), at(i), at(i+1), at(i+2), tx);
  };
  const val = catmull(rowVal(j-1), rowVal(j), rowVal(j+1), rowVal(j+2), ty);
  const c = [f[j][i], f[j][i+1], f[j+1][i], f[j+1][i+1]];
  return Math.max(Math.min.apply(null, c), Math.min(Math.max.apply(null, c), val));
}
function bandIndex(levels, v){
  if (v < levels[0]) return 0;
  for (let k = 0; k < levels.length - 1; k++){
    if (v < levels[k+1]) return k;
  }
  return levels.length - 2;
}

function drawMap(px, py, field, levels, colors){
  const g = mk("g", {transform: "translate(" + px + "," + py + ")"});
  
  

  const bg = mk("rect", {x: 0, y: 0, width: PW, height: PH, fill: "#fff"}, g);
  
  

  const step = 2;
  const paths = colors.map(function(){ return []; });
  for (let y = 0; y < PH; y += step){
    let start = 0, cur = -1;
    for (let x = 0; x <= PW; x += step){
      const k = x >= PW ? -2 : bandIndex(levels, sampleField(field, (x + 1) / PW, (y + 1) / PH));
      if (k !== cur){
        if (cur >= 0){
          paths[cur].push("M" + start + " " + y + "h" + (x - start) + "v" + step + "h" + (start - x) + "z");
        }
        start = x; cur = k;
      }
    }
  }
  paths.forEach(function(p, k){
    if (!p.length) return;
    const band = mk("path", {d: p.join(""), fill: colors[k], "shape-rendering": "crispEdges"}, g);
    
    
  });

  const outline = mk("path", {
    d: bordersOutline,
    fill: "none",
    stroke: "#000",
    "stroke-width": 1.4,
    "stroke-linejoin": "round",
    "vector-effect": "non-scaling-stroke",
    transform: "scale(" + (PW / 637) + "," + (PH / 1056) + ") translate(-105,-376)"
  }, g);
  
  

  lonTicks.forEach(function(lon){
    const line = mk("line", {x1: lonX(lon), x2: lonX(lon), y1: 0, y2: PH, stroke: "#000", "stroke-width": 1.3, "stroke-dasharray": "1.3 7.7"}, g);
    
    
    const lab = mk("text", {x: lonX(lon), y: PH + 17, "text-anchor": "middle", class: "tick"}, g);
    lab.textContent = lon + "° E";
    
    
  });
  latTicks.forEach(function(lat){
    const line = mk("line", {x1: 0, x2: PW, y1: latY(lat), y2: latY(lat), stroke: "#000", "stroke-width": 1.3, "stroke-dasharray": "1.3 7.7"}, g);
    
    
    const lab = mk("text", {x: -4, y: latY(lat) + 7, "text-anchor": "end", class: "tick"}, g);
    lab.textContent = lat + "° N";
    
    
  });

  const frame = mk("rect", {x: 0, y: 0, width: PW, height: PH, fill: "none", stroke: "#333", "stroke-width": 3}, g);
  
  
}

function drawColorbar(x0, x1, y0, y1, colors, labels, labelDy){
  const g = mk("g", {});
  
  
  const w = (x1 - x0) / colors.length;
  colors.forEach(function(c, i){
    const cell = mk("rect", {x: x0 + i * w, y: y0, width: w + 0.3, height: y1 - y0, fill: c, "shape-rendering": "crispEdges"}, g);
    
    
  });
  labels.forEach(function(t, i){
    const tx = x0 + i * w - 10, ty = y1 + labelDy;
    const lab = mk("text", {x: tx, y: ty, class: "bar", transform: "rotate(-35 " + tx + " " + ty + ")"}, g);
    lab.textContent = t;
    
    
  });
}

/* ---------- panels ---------- */
const colX = [64, 507, 1037, 1481];
const rowY = [129, 909, 1359, 1809];
drawMap(colX[0], rowY[0], djfCswl, concLevels, concColors);
drawMap(colX[1], rowY[0], djfCvb, concLevels, concColors);
drawMap(colX[2], rowY[0], jjaCswl, concLevels, concColors);
drawMap(colX[3], rowY[0], jjaCvb, concLevels, concColors);

drawMap(colX[0], rowY[1], djfSp0, diffLevels, diffColors);
drawMap(colX[1], rowY[1], djfVp0, diffLevels, diffColors);
drawMap(colX[2], rowY[1], jjaSp0, diffLevels, diffColors);
drawMap(colX[3], rowY[1], jjaVp0, diffLevels, diffColors);

drawMap(colX[0], rowY[2], djfSp50, diffLevels, diffColors);
drawMap(colX[1], rowY[2], djfVp50, diffLevels, diffColors);
drawMap(colX[2], rowY[2], jjaSp50, diffLevels, diffColors);
drawMap(colX[3], rowY[2], jjaVp50, diffLevels, diffColors);

drawMap(colX[0], rowY[3], djfSp100, diffLevels, diffColors);
drawMap(colX[1], rowY[3], djfVp100, diffLevels, diffColors);
drawMap(colX[2], rowY[3], jjaSp100, diffLevels, diffColors);
drawMap(colX[3], rowY[3], jjaVp100, diffLevels, diffColors);

drawColorbar(376, 1499, 615, 639, concColors, concLabels, 50);
drawColorbar(139.7, 1735, 2300, 2323, diffColors, diffLabels, 53);
</script>
</body>
</html>
